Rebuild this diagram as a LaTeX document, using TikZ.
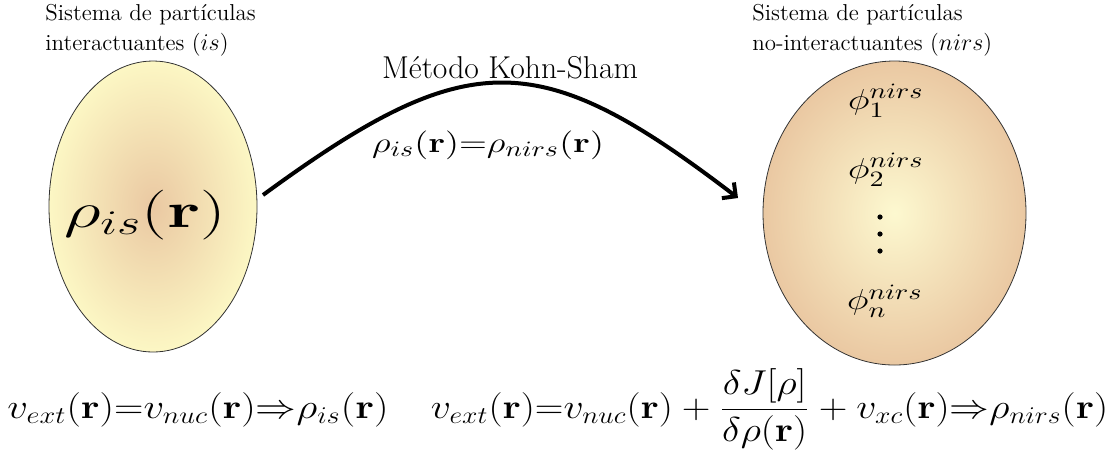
\documentclass[tikz,border=0pt]{standalone}
\usepackage{amsmath}
\usetikzlibrary{shapes.geometric,arrows.meta}
\definecolor{paleyel}{RGB}{252,247,196}
\definecolor{tan}{RGB}{234,200,162}
\begin{document}
\begin{tikzpicture}[x=0.5pt,y=-0.5pt,
  title/.style={font=\fontsize{11.5}{15}\selectfont, align=left, inner sep=0pt, anchor=north west},
  blob/.style={ellipse, draw=black!80, line width=0.4pt, inner sep=0pt},
  eq/.style={inner sep=0pt, anchor=base},
  phil/.style={inner sep=0pt, font=\fontsize{15}{18}\selectfont},
  dot/.style={circle, fill=black, inner sep=0pt, minimum size=2.6pt},
  conn/.style={line width=2pt, -{Straight Barb[angle=90:5pt 1]}}]
\useasboundingbox (0,0) rectangle (1112,457);
% titles
\node[title] (tl) at (45,4) {Sistema de part\'iculas\\interactuantes ($is$)};
\node[title] (tr) at (752,4) {Sistema de part\'iculas\\no-interactuantes ($nirs$)};
% ellipses
\node[blob, minimum width=104pt, minimum height=145.5pt, inner color=tan, outer color=paleyel] (L) at (153,206.5) {};
\node[blob, minimum width=131.5pt, minimum height=152pt, inner color=paleyel!80!white, outer color=tan] (R) at (894.5,213) {};
% content left
\node[inner sep=0pt, font=\fontsize{23}{27}\selectfont] (rl) at (145,215) {\scalebox{1.45}[1]{$\rho_{is}(\mathbf{r})$}};
% content right
\node[phil] (p1) at (886,101) {\scalebox{1.28}[1]{$\phi_1^{nirs}$}};
\node[phil] (p2) at (886,170) {\scalebox{1.28}[1]{$\phi_2^{nirs}$}};
\node[dot] (d1) at (880,217) {};
\node[dot] (d2) at (880,234) {};
\node[dot] (d3) at (880,251) {};
\node[phil] (pn) at (885,301) {\scalebox{1.28}[1]{$\phi_n^{nirs}$}};
% arrow
\coordinate (s) at (263,195);
\coordinate (e) at (738,198);
\draw[conn] (s) .. controls (468,45) and (538,45) .. (e);
\node[inner sep=0pt, font=\fontsize{15.8}{18}\selectfont] (km) at (510,68) {M\'etodo Kohn-Sham};
\node[inner sep=0pt, font=\fontsize{15}{18}\selectfont] (eqm) at (488,145) {\scalebox{1.27}[1]{$\rho_{is}(\mathbf{r}){=}\rho_{nirs}(\mathbf{r})$}};
% bottom equations
\node[eq, font=\fontsize{17}{20}\selectfont] (eql) at (198,418) {\scalebox{1.18}[1]{$v_{ext}(\mathbf{r}){=}v_{nuc}(\mathbf{r}){\Rightarrow}\rho_{is}(\mathbf{r})$}};
\node[eq, font=\fontsize{17}{20}\selectfont] (eqr) at (769.5,418) {\scalebox{1.15}[1]{$v_{ext}(\mathbf{r}){=}v_{nuc}(\mathbf{r})+\dfrac{\delta J[\rho]}{\delta\rho(\mathbf{r})}+v_{xc}(\mathbf{r}){\Rightarrow}\rho_{nirs}(\mathbf{r})$}};
\end{tikzpicture}
\end{document}
